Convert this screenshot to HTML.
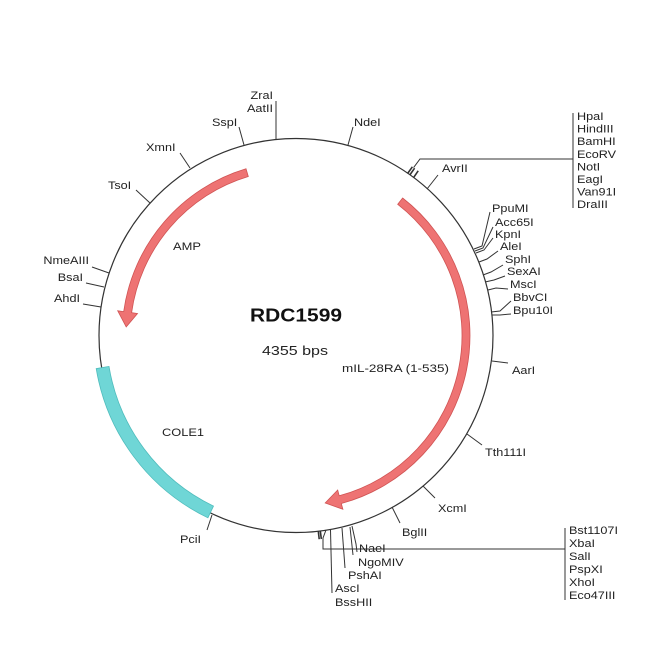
<!DOCTYPE html>
<html>
<head>
<meta charset="utf-8">
<style>
html,body{margin:0;padding:0;background:#fff;}
svg{display:block;}
text{font-family:"Liberation Sans",Arial,sans-serif;font-size:11px;fill:#222;}
</style>
</head>
<body>
<svg width="650" height="650" viewBox="0 0 650 650" xmlns="http://www.w3.org/2000/svg">
<rect width="650" height="650" fill="#fff"/>

<!-- backbone circle -->
<circle cx="296" cy="335.5" r="197" fill="none" stroke="#333" stroke-width="1.2"/>

<!-- COLE1 band -->
<path d="M 207.9 517.8 A 202.5 202.5 0 0 1 96.2 368.6 L 109.0 366.4 A 189.5 189.5 0 0 0 213.5 506.1 Z" fill="#6fd6d6" stroke="#4fbcbc" stroke-width="0.8"/>

<!-- AMP arrow -->
<path d="M 246.0 168.8 A 174 174 0 0 0 123.7 311.6 L 117.7 310.8 L 126.2 326.9 L 137.5 313.5 L 131.6 312.7 A 166 166 0 0 1 248.3 176.5 Z" fill="#ee7373" stroke="#cf5353" stroke-width="0.8"/>

<!-- mIL-28RA arrow -->
<path d="M 402.6 198.0 A 174 174 0 0 1 341.3 503.5 L 342.9 509.3 L 325.2 503.0 L 337.7 490.0 L 339.2 495.8 A 166 166 0 0 0 397.7 204.3 Z" fill="#ee7373" stroke="#cf5353" stroke-width="0.8"/>

<!-- ticks -->
<g stroke="#333" stroke-width="1" fill="none">
  <line x1="276" y1="101" x2="276" y2="140"/>
  <line x1="239" y1="127" x2="244" y2="145"/>
  <line x1="353" y1="127" x2="348" y2="145"/>
  <line x1="180" y1="153" x2="190" y2="168"/>
  <line x1="136" y1="190" x2="150" y2="203"/>
  <line x1="92" y1="267" x2="109" y2="273"/>
  <line x1="86" y1="283" x2="104" y2="287"/>
  <line x1="83" y1="304" x2="101" y2="307"/>
  <line x1="212" y1="515" x2="207" y2="530"/>
  <line x1="427" y1="189" x2="438" y2="175"/>
  <line x1="492" y1="361" x2="508" y2="363"/>
  <line x1="467" y1="434" x2="482" y2="445"/>
  <line x1="423" y1="486" x2="435" y2="498"/>
  <line x1="392" y1="507" x2="400" y2="523"/>

  <!-- right cluster -->
  <polyline points="474,249 482,246 490,212"/>
  <polyline points="475,251 483,248 493,227"/>
  <polyline points="476,253 484,250 493,238"/>
  <polyline points="479,262 487,259 498,251"/>
  <polyline points="483,275 491,272 503,265"/>
  <polyline points="485,282 494,280 505,276"/>
  <polyline points="488,290 496,288 508,289"/>
  <polyline points="491,312 500,311 511,301"/>
  <polyline points="492,315 500,315 511,314"/>

  <!-- top-right MCS -->
  <polyline points="413.6,167.6 420,159 573,159"/>
  <line x1="573" y1="113" x2="573" y2="208"/>

  <!-- bottom MCS -->
  <polyline points="326,530 323,538 323,549 565,549"/>
  <line x1="565" y1="528" x2="565" y2="600"/>
  <line x1="330.5" y1="530" x2="332" y2="593"/>
  <line x1="342" y1="528" x2="345" y2="568"/>
  <line x1="350" y1="527" x2="353" y2="555"/>
  <polyline points="352,526 356,544 357,552"/>
</g>
<g stroke="#333" stroke-width="1.6">
  <line x1="407.5" y1="173.6" x2="412.4" y2="166.8"/>
  <line x1="409.8" y1="175.0" x2="414.6" y2="168.2"/>
  <line x1="413.6" y1="177.6" x2="418.2" y2="170.8"/>
  <line x1="318.3" y1="531.2" x2="319.2" y2="539.2"/>
  <line x1="320.3" y1="531.0" x2="321.3" y2="539.0"/>
</g>

<!-- center texts -->
<text x="250" y="321.5" style="font-size:18px;font-weight:bold;fill:#111" textLength="92" lengthAdjust="spacingAndGlyphs">RDC1599</text>
<text x="262" y="355" style="font-size:12.5px" textLength="66" lengthAdjust="spacingAndGlyphs">4355 bps</text>
<text x="342" y="372" textLength="107" lengthAdjust="spacingAndGlyphs">mIL-28RA (1-535)</text>
<text x="173" y="250" textLength="28" lengthAdjust="spacingAndGlyphs">AMP</text>
<text x="162" y="436" textLength="42" lengthAdjust="spacingAndGlyphs">COLE1</text>

<!-- site labels -->
<text transform="matrix(1.15 0 0 1 273 99)" text-anchor="end">ZraI</text>
<text transform="matrix(1.15 0 0 1 273 112)" text-anchor="end">AatII</text>
<text transform="matrix(1.15 0 0 1 212 126)">SspI</text>
<text transform="matrix(1.15 0 0 1 354 126)">NdeI</text>
<text transform="matrix(1.15 0 0 1 146 151)">XmnI</text>
<text transform="matrix(1.15 0 0 1 108 189)">TsoI</text>
<text transform="matrix(1.15 0 0 1 89 264)" text-anchor="end">NmeAIII</text>
<text transform="matrix(1.15 0 0 1 83 281)" text-anchor="end">BsaI</text>
<text transform="matrix(1.15 0 0 1 80 302)" text-anchor="end">AhdI</text>
<text transform="matrix(1.15 0 0 1 180 543)">PciI</text>
<text transform="matrix(1.15 0 0 1 442 172)">AvrII</text>

<text transform="matrix(1.15 0 0 1 492 212)">PpuMI</text>
<text transform="matrix(1.15 0 0 1 495 226)">Acc65I</text>
<text transform="matrix(1.15 0 0 1 495 238)">KpnI</text>
<text transform="matrix(1.15 0 0 1 500 250)">AleI</text>
<text transform="matrix(1.15 0 0 1 505 263)">SphI</text>
<text transform="matrix(1.15 0 0 1 507 275)">SexAI</text>
<text transform="matrix(1.15 0 0 1 510 288)">MscI</text>
<text transform="matrix(1.15 0 0 1 513 301)">BbvCI</text>
<text transform="matrix(1.15 0 0 1 513 314)">Bpu10I</text>

<text transform="matrix(1.15 0 0 1 512 374)">AarI</text>
<text transform="matrix(1.15 0 0 1 485 456)">Tth111I</text>
<text transform="matrix(1.15 0 0 1 438 512)">XcmI</text>
<text transform="matrix(1.15 0 0 1 402 536)">BglII</text>

<text transform="matrix(1.15 0 0 1 577 120)">HpaI</text>
<text transform="matrix(1.15 0 0 1 577 132.6)">HindIII</text>
<text transform="matrix(1.15 0 0 1 577 145.2)">BamHI</text>
<text transform="matrix(1.15 0 0 1 577 157.8)">EcoRV</text>
<text transform="matrix(1.15 0 0 1 577 170.4)">NotI</text>
<text transform="matrix(1.15 0 0 1 577 183)">EagI</text>
<text transform="matrix(1.15 0 0 1 577 195.6)">Van91I</text>
<text transform="matrix(1.15 0 0 1 577 208.2)">DraIII</text>

<text transform="matrix(1.15 0 0 1 569 534)">Bst1107I</text>
<text transform="matrix(1.15 0 0 1 569 547)">XbaI</text>
<text transform="matrix(1.15 0 0 1 569 560)">SalI</text>
<text transform="matrix(1.15 0 0 1 569 573)">PspXI</text>
<text transform="matrix(1.15 0 0 1 569 586)">XhoI</text>
<text transform="matrix(1.15 0 0 1 569 599)">Eco47III</text>

<text transform="matrix(1.15 0 0 1 359 552)">NaeI</text>
<text transform="matrix(1.15 0 0 1 358 566)">NgoMIV</text>
<text transform="matrix(1.15 0 0 1 348 579)">PshAI</text>
<text transform="matrix(1.15 0 0 1 335 592)">AscI</text>
<text transform="matrix(1.15 0 0 1 335 606)">BssHII</text>
</svg>
</body>
</html>
